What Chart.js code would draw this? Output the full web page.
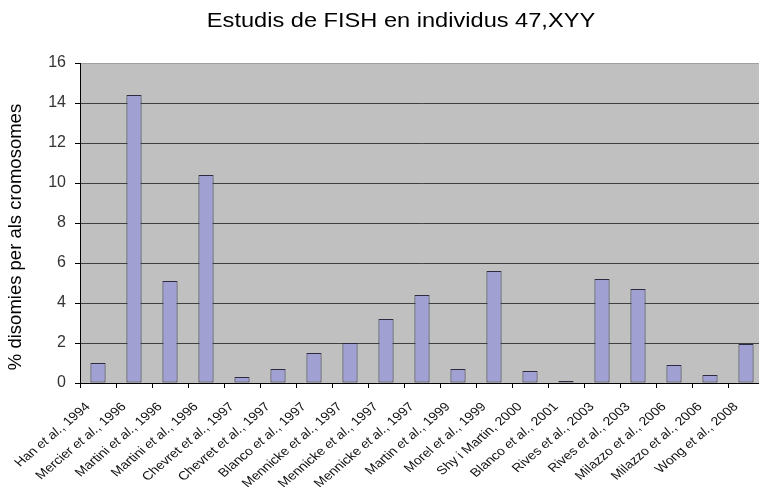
<!DOCTYPE html>
<html>
<head>
<meta charset="utf-8">
<script src="https://cdn.jsdelivr.net/npm/chart.js@4"></script>
<style>
  html, body { margin: 0; padding: 0; background: #ffffff; overflow: hidden; width: 759px; height: 487px; }
  #c { display: block; }
</style>
</head>
<body>
<canvas id="c" width="764" height="487"></canvas>
<script>
const chartTitle = 'Estudis de FISH en individus 47,XYY';
const yAxisTitle = '% disomies per als cromosomes';
const categories = [
  'Han et al., 1994', 'Mercier et al., 1996', 'Martini et al., 1996', 'Martini et al., 1996',
  'Chevret et al., 1997', 'Chevret et al., 1997', 'Blanco et al., 1997', 'Mennicke et al., 1997',
  'Mennicke et al., 1997', 'Mennicke et al., 1997', 'Martin et al., 1999', 'Morel et al., 1999',
  'Shy i Martin, 2000', 'Blanco et al., 2001', 'Rives et al., 2003', 'Rives et al., 2003',
  'Milazzo et al., 2006', 'Milazzo et al., 2006', 'Wong et al., 2008'
];
const disomyValues = [1.0, 14.4, 5.1, 10.4, 0.3, 0.7, 1.5, 2.0, 3.2, 4.4, 0.7, 5.6, 0.6, 0.1, 5.2, 4.7, 0.9, 0.4, 1.95];
const yMin = 0, yMax = 16, yStep = 2;

const STRETCH = 1.18;

const decorPlugin = {
  id: 'decor',
  beforeDraw(chart) {
    const { ctx, chartArea: a } = chart;
    ctx.save();
    ctx.fillStyle = '#c0c0c0';
    ctx.fillRect(a.left, a.top, a.right - a.left, a.bottom - a.top);
    ctx.restore();
  },
  afterDraw(chart) {
    const { ctx } = chart;
    const xs = chart.scales.x;
    const ys = chart.scales.y;
    // Title
    ctx.save();
    ctx.fillStyle = '#000';
    ctx.font = '20px "Liberation Sans", Arial, sans-serif';
    ctx.textAlign = 'center';
    ctx.textBaseline = 'middle';
    ctx.translate(401, 21);
    ctx.scale(STRETCH, 1);
    ctx.fillText(chartTitle, 0, 0);
    ctx.restore();
    // Y axis title
    ctx.save();
    ctx.fillStyle = '#000';
    ctx.font = '18.5px "Liberation Sans", Arial, sans-serif';
    ctx.textAlign = 'center';
    ctx.textBaseline = 'middle';
    ctx.translate(16, (ys.top + ys.bottom) / 2 + 14);
    ctx.rotate(-Math.PI / 2);
    ctx.fillText(yAxisTitle, 0, 0);
    ctx.restore();
    // X category labels, rotated, with italic "et al."
    const normal = '12px "Liberation Sans", Arial, sans-serif';
    const italic = 'italic 12px "Liberation Sans", Arial, sans-serif';
    categories.forEach((lab, i) => {
      const cx = xs.getPixelForValue(i);
      const parts = lab.split('et al.');
      const segs = parts.length === 2
        ? [[parts[0], normal], ['et al.', italic], [parts[1], normal]]
        : [[lab, normal]];
      ctx.save();
      ctx.fillStyle = '#111';
      ctx.textBaseline = 'middle';
      ctx.textAlign = 'left';
      let total = 0;
      segs.forEach(s => { ctx.font = s[1]; total += ctx.measureText(s[0]).width; });
      ctx.translate(cx - 10, ys.bottom + 22);
      ctx.scale(STRETCH, 1);
      ctx.rotate(-Math.PI / 4);
      let x = -total;
      segs.forEach(s => { ctx.font = s[1]; ctx.fillText(s[0], x, 0); x += ctx.measureText(s[0]).width; });
      ctx.restore();
    });
  }
};

new Chart(document.getElementById('c'), {
  type: 'bar',
  data: {
    labels: categories,
    datasets: [{
      data: disomyValues,
      backgroundColor: '#a0a0d2',
      borderColor: '#2a2a40',
      borderWidth: 1,
      borderSkipped: false,
      barPercentage: 0.42,
      categoryPercentage: 1.0
    }]
  },
  options: {
    responsive: false,
    animation: false,
    devicePixelRatio: 1,
    layout: { padding: { top: 63, left: 0, right: 0, bottom: 0 } },
    plugins: {
      legend: { display: false },
      title: { display: false },
      tooltip: { enabled: false }
    },
    scales: {
      x: {
        offset: true,
        ticks: { display: false },
        grid: { drawOnChartArea: false, color: '#000', tickLength: 5, offset: true },
        border: { color: '#000', width: 1 },
        afterFit: s => { s.height = 104; }
      },
      y: {
        min: yMin,
        max: yMax,
        ticks: {
          stepSize: yStep,
          padding: 9,
          color: '#333',
          font: { family: '"Liberation Sans", Arial, sans-serif', size: 16 }
        },
        grid: {
          color: c => (c.tick && c.tick.value === yMax) ? '#a0a0a0' : '#404040',
          tickColor: '#000',
          tickLength: 5,
          lineWidth: 1
        },
        border: { color: '#000', width: 1 },
        afterFit: s => { s.width = 80; }
      }
    }
  },
  plugins: [decorPlugin]
});
</script>
</body>
</html>
